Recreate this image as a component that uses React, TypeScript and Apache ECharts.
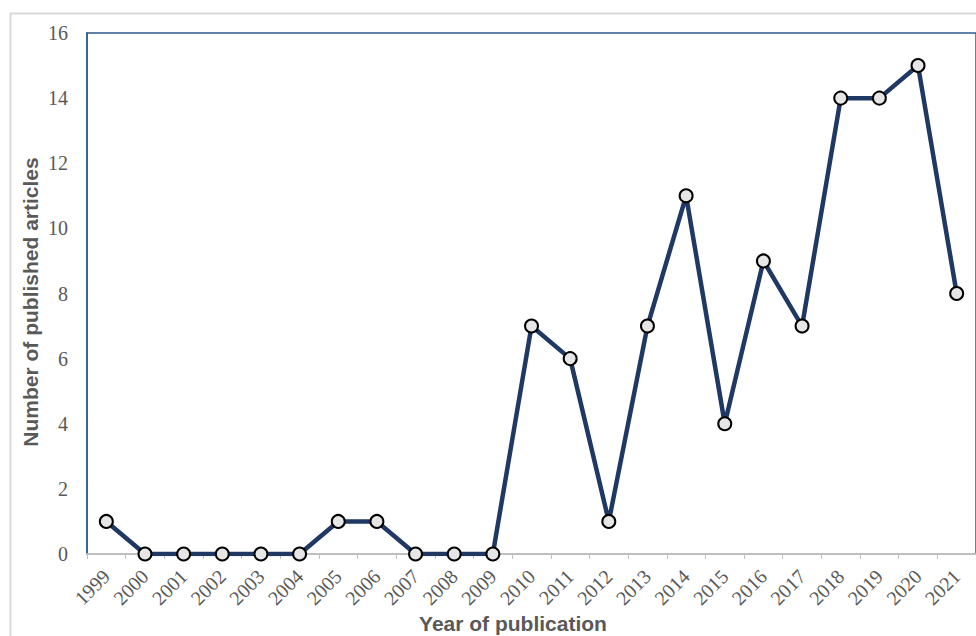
import React, { useEffect, useRef } from "react";
import * as echarts from "echarts";

const years: string[] = [
  "1999", "2000", "2001", "2002", "2003", "2004", "2005", "2006", "2007", "2008", "2009",
  "2010", "2011", "2012", "2013", "2014", "2015", "2016", "2017", "2018", "2019", "2020", "2021",
];
const articles: number[] = [1, 0, 0, 0, 0, 0, 1, 1, 0, 0, 0, 7, 6, 1, 7, 11, 4, 9, 7, 14, 14, 15, 8];
const yTicks = { min: 0, max: 16, interval: 2 };
const xTitle = "Year of publication";
const yTitle = "Number of published articles";

const titleStyle = {
  fontFamily: "'Liberation Sans', Arial, sans-serif",
  fontWeight: "bold",
  fontSize: 21,
  fill: "#595959",
};

export default function App() {
  const ref = useRef<HTMLDivElement>(null);
  useEffect(() => {
    if (!ref.current) return;
    const chart = echarts.init(ref.current, undefined, { renderer: "svg" });
    chart.setOption({
      animation: false,
      backgroundColor: "#ffffff",
      graphic: [
        {
          type: "rect",
          left: 8,
          top: 11,
          shape: { width: 990, height: 650 },
          style: { fill: "none", stroke: "#d9d9d9", lineWidth: 2 },
          z: -10,
        },
        {
          type: "text",
          x: 513,
          y: 623,
          style: { ...titleStyle, text: xTitle, align: "center", verticalAlign: "middle" },
        },
        {
          type: "text",
          x: 30,
          y: 302,
          rotation: Math.PI / 2,
          style: { ...titleStyle, text: yTitle, align: "center", verticalAlign: "middle" },
        },
      ],
      grid: {
        left: 87,
        right: 0,
        top: 33,
        bottom: 82,
        show: true,
        borderColor: "#2F5B8C",
        borderWidth: 1.5,
        backgroundColor: "transparent",
      },
      xAxis: {
        type: "category",
        data: years,
        boundaryGap: true,
        axisLine: { show: true, lineStyle: { color: "#bfbfbf", width: 2 } },
        axisTick: { show: true, alignWithLabel: false, length: 5, lineStyle: { color: "#bfbfbf", width: 1 } },
        axisLabel: {
          rotate: 45,
          interval: 0,
          margin: 19,
          fontFamily: "'Liberation Serif', 'Times New Roman', serif",
          fontSize: 20,
          color: "#595959",
        },
        splitLine: { show: false },
      },
      yAxis: {
        type: "value",
        min: yTicks.min,
        max: yTicks.max,
        interval: yTicks.interval,
        axisLine: { show: true, lineStyle: { color: "#2F5B8C", width: 1.5 } },
        axisTick: { show: false },
        axisLabel: {
          margin: 19,
          fontFamily: "'Liberation Serif', 'Times New Roman', serif",
          fontSize: 20,
          color: "#595959",
        },
        splitLine: { show: false },
      },
      series: [
        {
          type: "line",
          data: articles,
          symbol: "circle",
          symbolSize: 13,
          lineStyle: { color: "#1F3864", width: 4.5 },
          itemStyle: { color: "#e6e6e6", borderColor: "#000000", borderWidth: 2 },
          z: 5,
        },
      ],
    });
    return () => chart.dispose();
  }, []);
  return (
    <div
      ref={ref}
      style={{ position: "fixed", left: 0, top: 0, width: 976, height: 636 }}
    />
  );
}
